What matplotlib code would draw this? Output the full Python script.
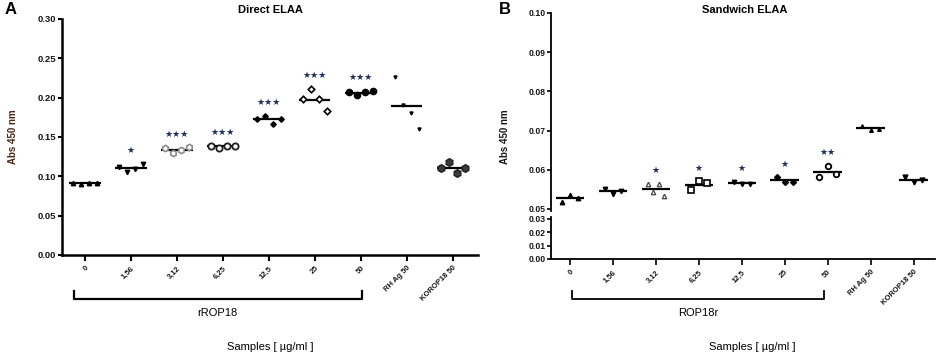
import numpy as np
import matplotlib
matplotlib.use("Agg")
from matplotlib import pyplot as plt
from matplotlib import transforms

plt.rcParams['font.family'] = ['Liberation Sans', 'DejaVu Sans']

samples = ['0', '1,56', '3,12', '6,25', '12,5', '25', '50', 'RH Ag 50', 'KOROP18 50']

# Direct ELAA, Abs 450 nm, one list per sample
direct_vals = [
    [0.092, 0.090, 0.092, 0.092],
    [0.112, 0.1055, 0.109, 0.116],
    [0.136, 0.130, 0.133, 0.137],
    [0.139, 0.136, 0.138, 0.139],
    [0.173, 0.177, 0.167, 0.173],
    [0.198, 0.211, 0.198, 0.183],
    [0.207, 0.203, 0.207, 0.2085],
    [0.226, 0.191, 0.180, 0.160],
    [0.1105, 0.118, 0.104, 0.1105],
]
direct_sig = ['', '*', '***', '***', '***', '***', '***', '', '']

# Sandwich ELAA
sandwich_vals = [
    [0.0518, 0.0536, 0.0528],
    [0.0551, 0.0538, 0.0546],
    [0.0563, 0.0544, 0.0564, 0.0534],
    [0.0548, 0.0571, 0.0566],
    [0.0570, 0.0563, 0.0563],
    [0.0581, 0.0569, 0.0569],
    [0.0581, 0.0610, 0.0590],
    [0.0712, 0.0701, 0.0705],
    [0.0581, 0.0568, 0.0574],
]
sandwich_sig = ['', '', '*', '*', '*', '*', '**', '', '']

direct_yticks = [0.00, 0.05, 0.10, 0.15, 0.20, 0.25, 0.30]
sandwich_top_yticks = [0.05, 0.06, 0.07, 0.08, 0.09, 0.10]
sandwich_low_yticks = [0.00, 0.01, 0.02, 0.03]

# marker styles per sample
style_a = [
    dict(marker='^', mfc='k', mec='k', ms=3.2),
    dict(marker='v', mfc='k', mec='k', ms=3.2),
    dict(marker='h', mfc='white', mec='#8c8c8c', ms=4.5, mew=1.2),
    dict(marker='o', mfc='white', mec='#1e1e1e', ms=4.5, mew=1.3),
    dict(marker='D', mfc='k', mec='k', ms=2.8),
    dict(marker='D', mfc='white', mec='k', ms=3.3, mew=1.2),
    dict(marker='o', mfc='k', mec='k', ms=4.5),
    dict(marker='v', mfc='k', mec='k', ms=2.2),
    dict(marker='h', mfc='#3a3a3a', mec='#1e1e1e', ms=5.5),
]
style_b = [
    dict(marker='^', mfc='k', mec='k', ms=3.2),
    dict(marker='v', mfc='k', mec='k', ms=3.2),
    dict(marker='^', mfc='white', mec='#444444', ms=3.2, mew=0.9),
    dict(marker='s', mfc='white', mec='k', ms=4, mew=1.2),
    dict(marker='v', mfc='k', mec='k', ms=3.2),
    dict(marker='D', mfc='k', mec='k', ms=3),
    dict(marker='o', mfc='white', mec='k', ms=4, mew=1.3),
    dict(marker='^', mfc='k', mec='k', ms=2.6),
    dict(marker='v', mfc='k', mec='k', ms=3.5),
]

dark = '#161616'
star_col = '#22305e'


def draw_points(ax, vals, styles, spread, half_line):
    for i, v in enumerate(vals):
        n = len(v)
        offs = np.linspace(-spread, spread, n)
        for x, y in zip(i + offs, v):
            ax.plot(x, y, linestyle='none', clip_on=False, zorder=3, **styles[i])
        ax.hlines(np.mean(v), i - half_line, i + half_line, color='k', lw=1.6, zorder=2)


def draw_stars(ax, vals, sig):
    for i, (v, s) in enumerate(zip(vals, sig)):
        if s:
            ax.annotate('★' * len(s), (i, max(v)), xytext=(0, 9.5), textcoords='offset points',
                        ha='center', va='center', fontsize=6.5, color=star_col,
                        family=['DejaVu Sans'])


def style_x(ax, lw):
    ax.set_xticks(range(len(samples)))
    ax.set_xticklabels(samples, rotation=45, ha='right', rotation_mode='anchor',
                       fontsize=5.5, fontweight='bold', color=dark)
    ax.tick_params(axis='x', direction='out', length=4, width=lw, pad=3)


fig = plt.figure(figsize=(9.38, 3.56), dpi=100)
H = 356.0
W = 938.0

# ---------------- panel A ----------------
axA = fig.add_axes([62 / W, 1 - 255 / H, 416 / W, 236 / H])
draw_points(axA, direct_vals, style_a, 0.26, 0.34)
draw_stars(axA, direct_vals, direct_sig)
axA.set_xlim(-0.5, 8.55)
axA.set_ylim(0, 0.30)
axA.set_yticks(direct_yticks)
axA.set_yticklabels(['%.2f' % t for t in direct_yticks], fontsize=6.8, fontweight='bold', color=dark)
axA.tick_params(axis='y', direction='out', length=3, width=1.5, pad=1)
for s in ['top', 'right']:
    axA.spines[s].set_visible(False)
for s in ['left', 'bottom']:
    axA.spines[s].set_linewidth(1.8)
style_x(axA, 1.5)
fig.text(270 / W, 1 - 10 / H, 'Direct ELAA', ha='center', va='center', fontsize=8, fontweight='bold')
fig.text(13 / W, 1 - 137 / H, 'Abs 450 nm', rotation=90, ha='center', va='center',
         fontsize=7, fontweight='bold', color='#4a2412')

trA = transforms.blended_transform_factory(axA.transData, fig.transFigure)
yb, ye = 1 - 299 / H, 1 - 291 / H
axA.plot([-0.24, -0.24, 6.02, 6.02], [ye, yb, yb, ye], color='k', lw=1.6,
         transform=trA, clip_on=False)
fig.text(0.5 * (-0.24 + 6.02), 1 - 313 / H, 'rROP18', transform=trA, ha='center', va='center',
         fontsize=8)
fig.text(270 / W, 1 - 347 / H, 'Samples [ µg/ml ]', ha='center', va='center', fontsize=8)
fig.text(5 / W, 1 - 10 / H, 'A', fontsize=12, fontweight='bold', va='center')

# ---------------- panel B (broken y axis) ----------------
left_b = 551 / W
width_b = 384 / W
axB = fig.add_axes([left_b, 1 - 211 / H, width_b, 198 / H])
axL = fig.add_axes([left_b, 1 - 259 / H, width_b, 42 / H], sharex=axB)

draw_points(axB, sandwich_vals, style_b, 0.19, 0.33)
draw_stars(axB, sandwich_vals, sandwich_sig)

axB.set_xlim(-0.44, 8.5)
axB.set_ylim(0.05 - 2 / 3920, 0.10)
axB.set_yticks(sandwich_top_yticks)
axB.set_yticklabels(['%.2f' % t for t in sandwich_top_yticks], fontsize=6.2,
                    fontweight='bold', color=dark)
axB.tick_params(axis='y', direction='out', length=3, width=1.2, pad=1)
axB.tick_params(axis='x', bottom=False, labelbottom=False)
for s in ['top', 'right', 'bottom']:
    axB.spines[s].set_visible(False)
axB.spines['left'].set_linewidth(1.3)
fig.text(745 / W, 1 - 10 / H, 'Sandwich ELAA', ha='center', va='center', fontsize=8,
         fontweight='bold')

axL.set_ylim(0, 0.03 + 0.03 * 2 / 40)
axL.set_yticks(sandwich_low_yticks)
axL.set_yticklabels(['%.2f' % t for t in sandwich_low_yticks], fontsize=6.2,
                    fontweight='bold', color=dark)
axL.tick_params(axis='y', direction='out', length=3, width=1.2, pad=1)
for s in ['top', 'right']:
    axL.spines[s].set_visible(False)
for s in ['left', 'bottom']:
    axL.spines[s].set_linewidth(1.3)
style_x(axL, 1.2)

fig.text(505 / W, 1 - 137 / H, 'Abs 450 nm', rotation=90, ha='center', va='center',
         fontsize=7, fontweight='bold', color=dark)

trB = transforms.blended_transform_factory(axL.transData, fig.transFigure)
axL.plot([0.05, 0.05, 5.92, 5.92], [ye, yb, yb, ye], color='k', lw=1.3,
         transform=trB, clip_on=False)
fig.text(0.5 * (0.05 + 5.92), 1 - 313 / H, 'ROP18r', transform=trB, ha='center', va='center',
         fontsize=8)
fig.text(752 / W, 1 - 347 / H, 'Samples [ µg/ml ]', ha='center', va='center', fontsize=8)
fig.text(499 / W, 1 - 10 / H, 'B', fontsize=12, fontweight='bold', va='center')

fig.savefig('out.png', dpi=100)
